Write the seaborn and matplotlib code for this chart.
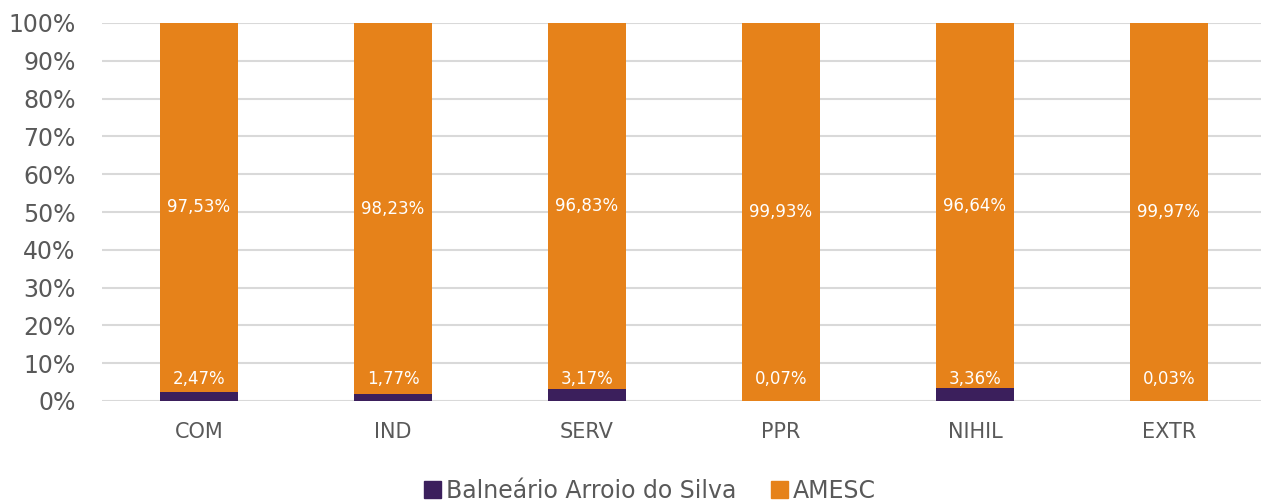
import matplotlib.pyplot as plt
import matplotlib.ticker as mticker
import pandas as pd
import seaborn as sns
from matplotlib.patches import Patch

categorias = ["COM", "IND", "SERV", "PPR", "NIHIL", "EXTR"]
balneario = [2.47, 1.77, 3.17, 0.07, 3.36, 0.03]
amesc = [97.53, 98.23, 96.83, 99.93, 96.64, 99.97]

COR_BAL = "#3B1F5C"
COR_AMESC = "#E6821A"
CINZA = "#595959"

sns.set_theme(style="white")
plt.rcParams["font.family"] = ["DejaVu Sans"]

df = pd.DataFrame({"categoria": categorias, "balneario": balneario, "amesc": amesc})
df["total"] = df["balneario"] + df["amesc"]

fig = plt.figure(figsize=(12.61, 5.03), dpi=100)
ax = fig.add_axes([102 / 1261, 102 / 503, 1164 / 1261, 378 / 503])

for y in range(0, 101, 10):
    ax.axhline(y, color="#D9D9D9", lw=1.5, zorder=0)

sns.barplot(data=df, x="categoria", y="total", color=COR_AMESC, width=0.4,
            saturation=1, linewidth=0, ax=ax, zorder=2)
sns.barplot(data=df, x="categoria", y="balneario", color=COR_BAL, width=0.4,
            saturation=1, linewidth=0, ax=ax, zorder=3)

for i, (b, a) in enumerate(zip(balneario, amesc)):
    ax.text(i, b + a / 2, f"{a:.2f}%".replace(".", ","), ha="center", va="center",
            color="white", fontsize=12, zorder=4)
    ax.text(i, 5.8, f"{b:.2f}%".replace(".", ","), ha="center", va="center",
            color="white", fontsize=12, zorder=4)

ax.set_ylim(0, 100)
ax.set_xlim(-0.5, len(categorias) - 0.5)
ax.yaxis.set_major_locator(mticker.MultipleLocator(10))
ax.yaxis.set_major_formatter(mticker.FuncFormatter(lambda v, p: f"{v:.0f}%"))
ax.set_xlabel("")
ax.set_ylabel("")
ax.tick_params(axis="y", labelsize=17, colors=CINZA, pad=19, length=0)
ax.tick_params(axis="x", labelsize=15, colors=CINZA, pad=15, length=0)
for s in ax.spines.values():
    s.set_visible(False)

handles = [Patch(color=COR_BAL, label="Balneário Arroio do Silva"),
           Patch(color=COR_AMESC, label="AMESC")]
fig.legend(handles=handles, loc="center", bbox_to_anchor=(650 / 1261, 1 - 491 / 503),
           ncol=2, frameon=False, fontsize=17, labelcolor=CINZA, handlelength=0.7,
           handleheight=0.7, handletextpad=0.2, columnspacing=1.5)

fig.savefig("out.png", dpi=100)
